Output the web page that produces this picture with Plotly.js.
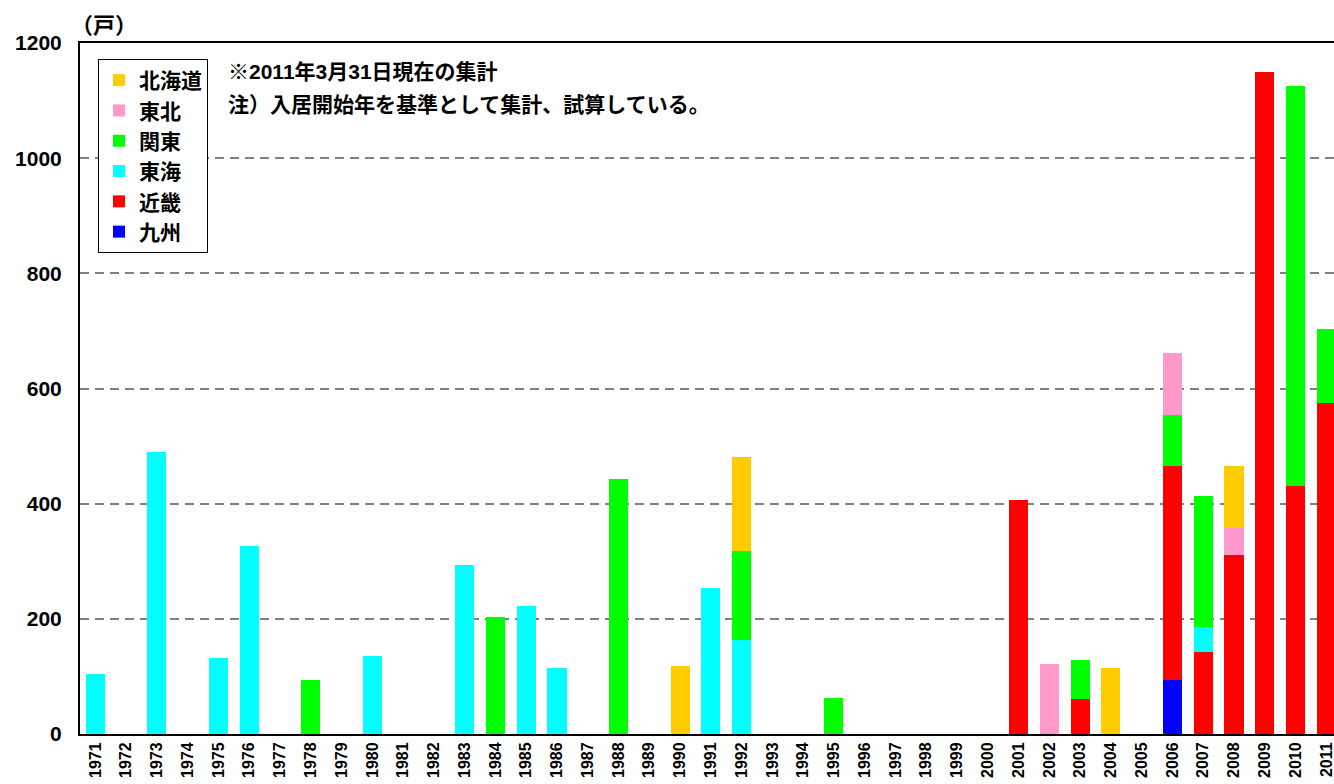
<!DOCTYPE html>
<html>
<head>
<meta charset="utf-8">
<script src="https://cdn.plot.ly/plotly-3.0.1.min.js"></script>
<style>
  html, body { margin: 0; padding: 0; background: #fff; overflow: hidden; }
  #chart { width: 1334px; height: 784px; }
</style>
</head>
<body>
<div id="chart"></div>
<script>
// 入居開始年
const years = [
  '1971','1972','1973','1974','1975','1976','1977','1978','1979','1980',
  '1981','1982','1983','1984','1985','1986','1987','1988','1989','1990',
  '1991','1992','1993','1994','1995','1996','1997','1998','1999','2000',
  '2001','2002','2003','2004','2005','2006','2007','2008','2009','2010','2011'
];

// 地域別戸数（戸）
const kyushu = [
  0,0,0,0,0,0,0,0,0,0, 0,0,0,0,0,0,0,0,0,0,
  0,0,0,0,0,0,0,0,0,0, 0,0,0,0,0,93,0,0,0,0,0
];
const kinki = [
  0,0,0,0,0,0,0,0,0,0, 0,0,0,0,0,0,0,0,0,0,
  0,0,0,0,0,0,0,0,0,0, 406,0,60,0,0,372,142,311,1150,431,575
];
const tokai = [
  104,0,490,0,132,326,0,0,0,136, 0,0,293,0,222,114,0,0,0,0,
  253,163,0,0,0,0,0,0,0,0, 0,0,0,0,0,0,43,0,0,0,0
];
const kanto = [
  0,0,0,0,0,0,0,93,0,0, 0,0,0,203,0,0,0,443,0,0,
  0,155,0,0,62,0,0,0,0,0, 0,0,68,0,0,89,228,0,0,695,128
];
const tohoku = [
  0,0,0,0,0,0,0,0,0,0, 0,0,0,0,0,0,0,0,0,0,
  0,0,0,0,0,0,0,0,0,0, 0,121,0,0,0,108,0,47,0,0,0
];
const hokkaido = [
  0,0,0,0,0,0,0,0,0,0, 0,0,0,0,0,0,0,0,0,118,
  0,163,0,0,0,0,0,0,0,0, 0,0,0,114,0,0,0,107,0,0,0
];

const yTicks = [0, 200, 400, 600, 800, 1000, 1200];

// 積み上げ順（下から）: 九州, 近畿, 東海, 関東, 東北, 北海道
const series = [
  { name: '九州',   values: kyushu,   color: '#0000FF' },
  { name: '近畿',   values: kinki,    color: '#FF0000' },
  { name: '東海',   values: tokai,    color: '#00FFFF' },
  { name: '関東',   values: kanto,    color: '#00FF00' },
  { name: '東北',   values: tohoku,   color: '#FF99CC' },
  { name: '北海道', values: hokkaido, color: '#FFCC00' }
];

const FONT = 'Liberation Sans, Arial, "Noto Sans CJK JP", sans-serif';

const traces = series.map(s => ({
  type: 'bar',
  name: s.name,
  x: years,
  y: s.values,
  legendgroup: s.name,
  marker: { color: s.color, line: { width: 0 } },
  hoverinfo: 'x+y+name'
}));

// 描画領域のピクセル位置から paper 座標へ
const W = 1334, H = 784;
const M = { l: 80, r: 0, t: 43, b: 50 };
const px = x => (x - M.l) / (W - M.l - M.r);
const py = y => (H - M.b - y) / (H - M.t - M.b);

const layout = {
  width: W,
  height: H,
  margin: M,
  paper_bgcolor: '#ffffff',
  plot_bgcolor: '#ffffff',
  font: { family: FONT, color: '#000000', size: 16 },
  barmode: 'stack',
  bargap: 0.38,
  showlegend: true,
  legend: {
    x: px(98), y: py(59), xanchor: 'left', yanchor: 'top',
    traceorder: 'reversed',
    tracegroupgap: 1,
    bgcolor: '#ffffff',
    bordercolor: '#000000',
    borderwidth: 1,
    font: { family: FONT, size: 21, weight: 'bold', color: '#000000' }
  },
  xaxis: {
    type: 'category',
    range: [-0.5, 40.25],
    tickangle: -90,
    tickfont: { family: FONT, size: 16, weight: 'bold', color: '#000000' },
    ticks: '',
    showline: true,
    linecolor: '#000000',
    linewidth: 2,
    mirror: true,
    showgrid: false,
    zeroline: false,
    fixedrange: true
  },
  yaxis: {
    range: [0, 1200],
    tickvals: yTicks,
    ticktext: yTicks.map(String),
    tickfont: { family: FONT, size: 21, weight: 'bold', color: '#000000' },
    ticks: '',
    ticklabelstandoff: 12,
    showline: true,
    linecolor: '#000000',
    linewidth: 2,
    showgrid: true,
    gridcolor: '#808080',
    gridwidth: 1.5,
    griddash: '9px,6px',
    zeroline: false,
    fixedrange: true
  },
  annotations: [
    {
      xref: 'paper', yref: 'paper', x: px(104), y: py(26),
      xanchor: 'center', yanchor: 'middle', showarrow: false,
      text: '（戸）',
      font: { family: FONT, size: 22, weight: 'bold' }
    },
    {
      xref: 'paper', yref: 'paper', x: px(226), y: py(72),
      xanchor: 'left', yanchor: 'middle', showarrow: false,
      text: '※2011年3月31日現在の集計',
      font: { family: FONT, size: 21, weight: 'bold' }
    },
    {
      xref: 'paper', yref: 'paper', x: px(226), y: py(104),
      xanchor: 'left', yanchor: 'middle', showarrow: false,
      text: '注）入居開始年を基準として集計、試算している。',
      font: { family: FONT, size: 21, weight: 'bold' }
    }
  ]
};

Plotly.newPlot('chart', traces, layout, { displayModeBar: false, responsive: false });
</script>
</body>
</html>
